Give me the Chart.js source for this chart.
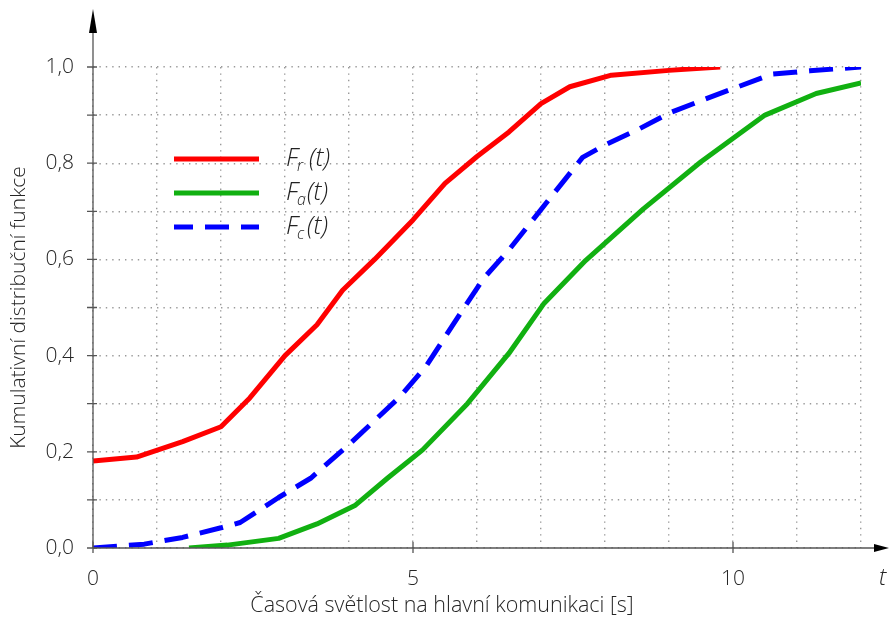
<!DOCTYPE html>
<html><head><meta charset="utf-8">
<script src="https://cdn.jsdelivr.net/npm/chart.js@4/dist/chart.umd.min.js"></script>
<style>html,body{margin:0;padding:0;background:#fff}#wrap{width:890px;height:619px;position:relative}canvas{display:block}</style>
</head><body><div id="wrap"><canvas id="c" width="890" height="619"></canvas></div>
<script>
// ---- data ----
const tR = [0, 0.68, 1.4, 2.0, 2.45, 3.0, 3.5, 3.9, 4.4, 5.0, 5.5, 6.0, 6.5, 7.0, 7.45, 8.1, 9.0, 9.8];
const vR = [0.181, 0.189, 0.221, 0.252, 0.312, 0.40, 0.464, 0.536, 0.60, 0.682, 0.758, 0.814, 0.865, 0.924, 0.959, 0.983, 0.993, 1.0];
const tA = [1.5, 2.1, 2.9, 3.5, 4.1, 4.6, 5.15, 5.85, 6.5, 7.05, 7.7, 8.6, 9.5, 10.5, 11.3, 12.0];
const vA = [0, 0.006, 0.02, 0.05, 0.089, 0.145, 0.204, 0.30, 0.405, 0.509, 0.598, 0.705, 0.803, 0.90, 0.945, 0.967];
const tC = [0, 0.8, 1.4, 2.0, 2.3, 2.9, 3.4, 4.0, 4.4, 4.8, 5.2, 5.8, 6.1, 6.5, 7.2, 7.65, 8.0, 8.5, 9.0, 9.5, 10.0, 10.6, 11.2, 12.0];
const vC = [0, 0.008, 0.022, 0.042, 0.053, 0.105, 0.145, 0.215, 0.265, 0.315, 0.377, 0.50, 0.56, 0.62, 0.737, 0.812, 0.838, 0.869, 0.904, 0.93, 0.955, 0.985, 0.992, 1.0];
const seriesNames = ['r', 'a', 'c'];
const xLabeled = [0, 5, 10];
const xTickLabels = ['0', '5', '10'];
const yTickLabels = ['0,0', '0,2', '0,4', '0,6', '0,8', '1,0'];
const xTitle = 'Časová světlost na hlavní komunikaci [s]';
const yTitle = 'Kumulativní distribuční funkce';
const xAxisSymbol = 't';

const toPts = (t, v) => t.map((tt, i) => ({x: tt, y: v[i]}));
const FONT = "'Open Sans', 'Noto Sans', sans-serif";
const TXT = '#262626';
const colors = ['#ff0000', '#11b011', '#0000ff'];
const dash = [24, 12];

const decor = {
  id: 'decor',
  afterDraw(chart) {
    const {ctx, scales: {x, y}} = chart;
    const x0 = x.getPixelForValue(0), y0 = y.getPixelForValue(0);
    ctx.save();
    ctx.setLineDash([]);
    ctx.strokeStyle = '#555';
    ctx.lineWidth = 1.3;
    // axes
    ctx.beginPath();
    ctx.moveTo(x0, y0); ctx.lineTo(x0, 30);
    ctx.moveTo(x0, y0); ctx.lineTo(876, y0);
    ctx.stroke();
    ctx.fillStyle = '#000';
    ctx.beginPath(); ctx.moveTo(x0, 9); ctx.lineTo(x0 - 4, 33); ctx.lineTo(x0 + 4, 33); ctx.closePath(); ctx.fill();
    ctx.beginPath(); ctx.moveTo(889, y0); ctx.lineTo(874, y0 - 4); ctx.lineTo(874, y0 + 4); ctx.closePath(); ctx.fill();
    // tick marks
    ctx.beginPath();
    for (let k = 0; k <= 10; k++) {
      const py = y.getPixelForValue(k / 10);
      ctx.moveTo(x0 - 6, py); ctx.lineTo(x0 + 4, py);
    }
    xLabeled.forEach(v => { const px = x.getPixelForValue(v); ctx.moveTo(px, y0 - 6); ctx.lineTo(px, y0 + 5); });
    ctx.stroke();
    // x title and axis symbol
    ctx.fillStyle = TXT;
    ctx.font = '300 21.5px ' + FONT;
    ctx.textAlign = 'center'; ctx.textBaseline = 'alphabetic';
    ctx.fillText(xTitle, 442, 612);
    ctx.font = 'italic 300 23px ' + FONT;
    ctx.textAlign = 'left';
    ctx.fillText(xAxisSymbol, 879, 585);
    // legend
    const rows = [159, 193, 227];
    const parenX = [309, 307, 307];
    chart.data.datasets.forEach((ds, i) => {
      const ly = rows[i];
      ctx.strokeStyle = ds.borderColor;
      ctx.lineWidth = 5;
      ctx.setLineDash(ds.borderDash || []);
      ctx.lineDashOffset = 5;
      ctx.beginPath(); ctx.moveTo(174, ly); ctx.lineTo(259, ly); ctx.stroke();
      ctx.setLineDash([]);
      ctx.fillStyle = '#222';
      ctx.font = 'italic 300 25px ' + FONT;
      ctx.fillText('F', 286, ly + 7);
      ctx.font = 'italic 300 16px ' + FONT;
      ctx.fillText(seriesNames[i], 297, ly + 12);
      ctx.font = 'italic 300 25px ' + FONT;
      ctx.fillText('(t)', parenX[i], ly + 7);
    });
    ctx.restore();
  }
};

new Chart(document.getElementById('c'), {
  type: 'line',
  data: {
    datasets: [
      {label: 'Fr(t)', data: toPts(tR, vR), borderColor: colors[0], borderWidth: 5},
      {label: 'Fa(t)', data: toPts(tA, vA), borderColor: colors[1], borderWidth: 5},
      {label: 'Fc(t)', data: toPts(tC, vC), borderColor: colors[2], borderWidth: 5, borderDash: dash}
    ]
  },
  options: {
    responsive: false,
    animation: false,
    devicePixelRatio: 1,
    parsing: true,
    elements: {point: {radius: 0}, line: {tension: 0, borderCapStyle: 'butt', borderJoinStyle: 'round', fill: false}},
    layout: {padding: {top: 67, right: 29, left: 0, bottom: 0}},
    plugins: {legend: {display: false}, tooltip: {enabled: false}},
    scales: {
      x: {
        type: 'linear', min: 0, max: 12,
        afterFit: s => { s.height = 71; },
        grid: {color: '#9a9a9a', lineWidth: 1.4, drawTicks: false},
        border: {display: false, dash: [1.4, 5]},
        ticks: {
          stepSize: 1, autoSkip: false, maxRotation: 0, padding: 18,
          color: TXT, font: {family: FONT, size: 21, weight: 300},
          callback: v => { const i = xLabeled.indexOf(v); return i >= 0 ? xTickLabels[i] : ''; }
        }
      },
      y: {
        type: 'linear', min: 0, max: 1,
        afterFit: s => { s.width = 93; },
        grid: {color: '#9a9a9a', lineWidth: 1.4, drawTicks: false},
        border: {display: false, dash: [1.4, 5]},
        ticks: {
          stepSize: 0.1, autoSkip: false, padding: 19,
          color: TXT, font: {family: FONT, size: 21, weight: 300},
          callback: v => { const k = Math.round(v * 10); return k % 2 === 0 ? yTickLabels[k / 2] : ''; }
        },
        title: {display: true, text: yTitle, color: TXT, font: {family: FONT, size: 21, weight: 300}, padding: {top: 6, bottom: 0}}
      }
    }
  },
  plugins: [decor]
});
</script>
</body></html>
